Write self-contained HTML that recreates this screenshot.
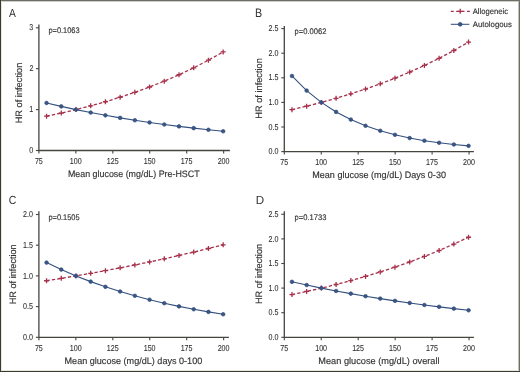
<!DOCTYPE html>
<html><head><meta charset="utf-8"><style>
html,body{margin:0;padding:0;background:#fff;}
body{width:520px;height:372px;overflow:hidden;position:relative;}
svg{position:absolute;left:0;top:0;will-change:transform;text-rendering:geometricPrecision;font-family:"Liberation Sans", sans-serif;}
circle{fill:#3b5787;stroke:#2c4776;stroke-width:0.7px;}
text{stroke:#333;stroke-width:0.16px;}
.tk{stroke-width:0.1px;}
.b{position:absolute;}
</style></head><body>
<svg width="520" height="372" viewBox="0 0 520 372">
<g><text x="9.08" y="17" font-size="11.8" fill="#333" textLength="6.85" lengthAdjust="spacingAndGlyphs" style="stroke-width:0">A</text>
<path d="M38.9 24.6V150.5H229.9" fill="none" stroke="#45453f" stroke-width="1.3"/>
<path d="M35.9 150.5H38.9" stroke="#45453f" stroke-width="1.1"/>
<text class="tk" x="29.3" y="153.1" font-size="8.6" fill="#333" textLength="3.97" lengthAdjust="spacingAndGlyphs">0</text>
<path d="M35.9 109.6H38.9" stroke="#45453f" stroke-width="1.1"/>
<text class="tk" x="29.37" y="112.2" font-size="8.6" fill="#333" textLength="3.97" lengthAdjust="spacingAndGlyphs">1</text>
<path d="M35.9 68.7H38.9" stroke="#45453f" stroke-width="1.1"/>
<text class="tk" x="29.39" y="71.3" font-size="8.6" fill="#333" textLength="3.97" lengthAdjust="spacingAndGlyphs">2</text>
<path d="M35.9 27.8H38.9" stroke="#45453f" stroke-width="1.1"/>
<text class="tk" x="29.35" y="30.4" font-size="8.6" fill="#333" textLength="3.97" lengthAdjust="spacingAndGlyphs">3</text>
<path d="M38.9 150.5V153.5" stroke="#45453f" stroke-width="1.1"/>
<text class="tk" x="34.9" y="163.9" font-size="8.6" fill="#333" textLength="7.94" lengthAdjust="spacingAndGlyphs">75</text>
<path d="M75.85 150.5V153.5" stroke="#45453f" stroke-width="1.1"/>
<text class="tk" x="69.76" y="163.9" font-size="8.6" fill="#333" textLength="11.91" lengthAdjust="spacingAndGlyphs">100</text>
<path d="M112.8 150.5V153.5" stroke="#45453f" stroke-width="1.1"/>
<text class="tk" x="106.73" y="163.9" font-size="8.6" fill="#333" textLength="11.91" lengthAdjust="spacingAndGlyphs">125</text>
<path d="M149.75 150.5V153.5" stroke="#45453f" stroke-width="1.1"/>
<text class="tk" x="143.66" y="163.9" font-size="8.6" fill="#333" textLength="11.91" lengthAdjust="spacingAndGlyphs">150</text>
<path d="M186.7 150.5V153.5" stroke="#45453f" stroke-width="1.1"/>
<text class="tk" x="180.63" y="163.9" font-size="8.6" fill="#333" textLength="11.91" lengthAdjust="spacingAndGlyphs">175</text>
<path d="M223.65 150.5V153.5" stroke="#45453f" stroke-width="1.1"/>
<text class="tk" x="217.65" y="163.9" font-size="8.6" fill="#333" textLength="11.91" lengthAdjust="spacingAndGlyphs">200</text>
<text x="67.97" y="176.7" font-size="9.3" fill="#333" textLength="131.63" lengthAdjust="spacingAndGlyphs">Mean glucose (mg/dL) Pre-HSCT</text>
<text transform="translate(22.3 123.36) rotate(-90)" font-size="9.3" fill="#333" textLength="60.66" lengthAdjust="spacingAndGlyphs">HR of infection</text>
<text x="48.42" y="32.5" font-size="8.1" fill="#333" textLength="31.21" lengthAdjust="spacingAndGlyphs">p=0.1063</text>
<path d="M46.54 116.2 L61.26 113.05 L75.98 109.6 L90.69 105.84 L105.41 101.73 L120.13 97.24 L134.85 92.34 L149.57 86.99 L164.28 81.15 L179 74.77 L193.72 67.81 L208.44 60.2 L223.16 51.89" fill="none" stroke="#a6304a" stroke-width="1.3" stroke-dasharray="3.3 2.1"/>
<path d="M44.04 116.2H49.04M46.54 113.7V118.7" stroke="#a6304a" stroke-width="1.3"/>
<path d="M58.76 113.05H63.76M61.26 110.55V115.55" stroke="#a6304a" stroke-width="1.3"/>
<path d="M73.48 109.6H78.48M75.98 107.1V112.1" stroke="#a6304a" stroke-width="1.3"/>
<path d="M88.19 105.84H93.19M90.69 103.34V108.34" stroke="#a6304a" stroke-width="1.3"/>
<path d="M102.91 101.73H107.91M105.41 99.23V104.23" stroke="#a6304a" stroke-width="1.3"/>
<path d="M117.63 97.24H122.63M120.13 94.74V99.74" stroke="#a6304a" stroke-width="1.3"/>
<path d="M132.35 92.34H137.35M134.85 89.84V94.84" stroke="#a6304a" stroke-width="1.3"/>
<path d="M147.07 86.99H152.07M149.57 84.49V89.49" stroke="#a6304a" stroke-width="1.3"/>
<path d="M161.78 81.15H166.78M164.28 78.65V83.65" stroke="#a6304a" stroke-width="1.3"/>
<path d="M176.5 74.77H181.5M179 72.27V77.27" stroke="#a6304a" stroke-width="1.3"/>
<path d="M191.22 67.81H196.22M193.72 65.31V70.31" stroke="#a6304a" stroke-width="1.3"/>
<path d="M205.94 60.2H210.94M208.44 57.7V62.7" stroke="#a6304a" stroke-width="1.3"/>
<path d="M220.66 51.89H225.66M223.16 49.39V54.39" stroke="#a6304a" stroke-width="1.3"/>
<path d="M46.54 102.93 L61.26 106.39 L75.98 109.6 L90.69 112.57 L105.41 115.33 L120.13 117.89 L134.85 120.26 L149.57 122.46 L164.28 124.5 L179 126.39 L193.72 128.14 L208.44 129.77 L223.16 131.28" fill="none" stroke="#33507f" stroke-width="1.1"/>
<circle cx="46.54" cy="102.93" r="1.8"/>
<circle cx="61.26" cy="106.39" r="1.8"/>
<circle cx="75.98" cy="109.6" r="1.8"/>
<circle cx="90.69" cy="112.57" r="1.8"/>
<circle cx="105.41" cy="115.33" r="1.8"/>
<circle cx="120.13" cy="117.89" r="1.8"/>
<circle cx="134.85" cy="120.26" r="1.8"/>
<circle cx="149.57" cy="122.46" r="1.8"/>
<circle cx="164.28" cy="124.5" r="1.8"/>
<circle cx="179" cy="126.39" r="1.8"/>
<circle cx="193.72" cy="128.14" r="1.8"/>
<circle cx="208.44" cy="129.77" r="1.8"/>
<circle cx="223.16" cy="131.28" r="1.8"/></g>
<g><text x="255.02" y="17.4" font-size="12.3" fill="#333" textLength="7.15" lengthAdjust="spacingAndGlyphs" style="stroke-width:0">B</text>
<path d="M284.3 26V151.6H473.9" fill="none" stroke="#45453f" stroke-width="1.3"/>
<path d="M281.3 151.6H284.3" stroke="#45453f" stroke-width="1.1"/>
<text class="tk" x="268.55" y="154.2" font-size="8.6" fill="#333" textLength="9.92" lengthAdjust="spacingAndGlyphs">0.0</text>
<path d="M281.3 127H284.3" stroke="#45453f" stroke-width="1.1"/>
<text class="tk" x="268.58" y="129.6" font-size="8.6" fill="#333" textLength="9.92" lengthAdjust="spacingAndGlyphs">0.5</text>
<path d="M281.3 102.4H284.3" stroke="#45453f" stroke-width="1.1"/>
<text class="tk" x="268.55" y="105" font-size="8.6" fill="#333" textLength="9.92" lengthAdjust="spacingAndGlyphs">1.0</text>
<path d="M281.3 77.8H284.3" stroke="#45453f" stroke-width="1.1"/>
<text class="tk" x="268.58" y="80.4" font-size="8.6" fill="#333" textLength="9.92" lengthAdjust="spacingAndGlyphs">1.5</text>
<path d="M281.3 53.2H284.3" stroke="#45453f" stroke-width="1.1"/>
<text class="tk" x="268.55" y="55.8" font-size="8.6" fill="#333" textLength="9.92" lengthAdjust="spacingAndGlyphs">2.0</text>
<path d="M281.3 28.6H284.3" stroke="#45453f" stroke-width="1.1"/>
<text class="tk" x="268.58" y="31.2" font-size="8.6" fill="#333" textLength="9.92" lengthAdjust="spacingAndGlyphs">2.5</text>
<path d="M284.3 151.6V154.6" stroke="#45453f" stroke-width="1.1"/>
<text class="tk" x="280.3" y="165" font-size="8.6" fill="#333" textLength="7.94" lengthAdjust="spacingAndGlyphs">75</text>
<path d="M321.25 151.6V154.6" stroke="#45453f" stroke-width="1.1"/>
<text class="tk" x="315.16" y="165" font-size="8.6" fill="#333" textLength="11.91" lengthAdjust="spacingAndGlyphs">100</text>
<path d="M358.2 151.6V154.6" stroke="#45453f" stroke-width="1.1"/>
<text class="tk" x="352.13" y="165" font-size="8.6" fill="#333" textLength="11.91" lengthAdjust="spacingAndGlyphs">125</text>
<path d="M395.15 151.6V154.6" stroke="#45453f" stroke-width="1.1"/>
<text class="tk" x="389.06" y="165" font-size="8.6" fill="#333" textLength="11.91" lengthAdjust="spacingAndGlyphs">150</text>
<path d="M432.1 151.6V154.6" stroke="#45453f" stroke-width="1.1"/>
<text class="tk" x="426.03" y="165" font-size="8.6" fill="#333" textLength="11.91" lengthAdjust="spacingAndGlyphs">175</text>
<path d="M469.05 151.6V154.6" stroke="#45453f" stroke-width="1.1"/>
<text class="tk" x="463.05" y="165" font-size="8.6" fill="#333" textLength="11.91" lengthAdjust="spacingAndGlyphs">200</text>
<text x="312.26" y="178.2" font-size="9.3" fill="#333" textLength="133.69" lengthAdjust="spacingAndGlyphs">Mean glucose (mg/dL) Days 0-30</text>
<text transform="translate(261.5 118.66) rotate(-90)" font-size="9.3" fill="#333" textLength="60.45" lengthAdjust="spacingAndGlyphs">HR of infection</text>
<text x="294.62" y="34.2" font-size="8.1" fill="#333" textLength="31.77" lengthAdjust="spacingAndGlyphs">p=0.0062</text>
<path d="M291.94 109.67 L306.66 106.18 L321.38 102.4 L336.09 98.3 L350.81 93.86 L365.53 89.05 L380.25 83.85 L394.97 78.2 L409.68 72.09 L424.4 65.47 L439.12 58.29 L453.84 50.52 L468.56 42.1" fill="none" stroke="#a6304a" stroke-width="1.3" stroke-dasharray="3.3 2.1"/>
<path d="M289.44 109.67H294.44M291.94 107.17V112.17" stroke="#a6304a" stroke-width="1.3"/>
<path d="M304.16 106.18H309.16M306.66 103.68V108.68" stroke="#a6304a" stroke-width="1.3"/>
<path d="M318.88 102.4H323.88M321.38 99.9V104.9" stroke="#a6304a" stroke-width="1.3"/>
<path d="M333.59 98.3H338.59M336.09 95.8V100.8" stroke="#a6304a" stroke-width="1.3"/>
<path d="M348.31 93.86H353.31M350.81 91.36V96.36" stroke="#a6304a" stroke-width="1.3"/>
<path d="M363.03 89.05H368.03M365.53 86.55V91.55" stroke="#a6304a" stroke-width="1.3"/>
<path d="M377.75 83.85H382.75M380.25 81.35V86.35" stroke="#a6304a" stroke-width="1.3"/>
<path d="M392.47 78.2H397.47M394.97 75.7V80.7" stroke="#a6304a" stroke-width="1.3"/>
<path d="M407.18 72.09H412.18M409.68 69.59V74.59" stroke="#a6304a" stroke-width="1.3"/>
<path d="M421.9 65.47H426.9M424.4 62.97V67.97" stroke="#a6304a" stroke-width="1.3"/>
<path d="M436.62 58.29H441.62M439.12 55.79V60.79" stroke="#a6304a" stroke-width="1.3"/>
<path d="M451.34 50.52H456.34M453.84 48.02V53.02" stroke="#a6304a" stroke-width="1.3"/>
<path d="M466.06 42.1H471.06M468.56 39.6V44.6" stroke="#a6304a" stroke-width="1.3"/>
<path d="M291.94 75.97 L306.66 90.6 L321.38 102.4 L336.09 111.92 L350.81 119.59 L365.53 125.79 L380.25 130.78 L394.97 134.81 L409.68 138.06 L424.4 140.68 L439.12 142.79 L453.84 144.49 L468.56 145.87" fill="none" stroke="#33507f" stroke-width="1.1"/>
<circle cx="291.94" cy="75.97" r="1.8"/>
<circle cx="306.66" cy="90.6" r="1.8"/>
<circle cx="321.38" cy="102.4" r="1.8"/>
<circle cx="336.09" cy="111.92" r="1.8"/>
<circle cx="350.81" cy="119.59" r="1.8"/>
<circle cx="365.53" cy="125.79" r="1.8"/>
<circle cx="380.25" cy="130.78" r="1.8"/>
<circle cx="394.97" cy="134.81" r="1.8"/>
<circle cx="409.68" cy="138.06" r="1.8"/>
<circle cx="424.4" cy="140.68" r="1.8"/>
<circle cx="439.12" cy="142.79" r="1.8"/>
<circle cx="453.84" cy="144.49" r="1.8"/>
<circle cx="468.56" cy="145.87" r="1.8"/></g>
<g><text x="8.78" y="204" font-size="11.8" fill="#333" textLength="7.52" lengthAdjust="spacingAndGlyphs" style="stroke-width:0">C</text>
<path d="M38.9 211.3V337.3H228.9" fill="none" stroke="#45453f" stroke-width="1.3"/>
<path d="M35.9 337.3H38.9" stroke="#45453f" stroke-width="1.1"/>
<text class="tk" x="22.95" y="339.9" font-size="8.6" fill="#333" textLength="9.92" lengthAdjust="spacingAndGlyphs">0.0</text>
<path d="M35.9 306.6H38.9" stroke="#45453f" stroke-width="1.1"/>
<text class="tk" x="22.98" y="309.2" font-size="8.6" fill="#333" textLength="9.92" lengthAdjust="spacingAndGlyphs">0.5</text>
<path d="M35.9 275.9H38.9" stroke="#45453f" stroke-width="1.1"/>
<text class="tk" x="22.95" y="278.5" font-size="8.6" fill="#333" textLength="9.92" lengthAdjust="spacingAndGlyphs">1.0</text>
<path d="M35.9 245.2H38.9" stroke="#45453f" stroke-width="1.1"/>
<text class="tk" x="22.98" y="247.8" font-size="8.6" fill="#333" textLength="9.92" lengthAdjust="spacingAndGlyphs">1.5</text>
<path d="M35.9 214.5H38.9" stroke="#45453f" stroke-width="1.1"/>
<text class="tk" x="22.95" y="217.1" font-size="8.6" fill="#333" textLength="9.92" lengthAdjust="spacingAndGlyphs">2.0</text>
<path d="M38.9 337.3V340.3" stroke="#45453f" stroke-width="1.1"/>
<text class="tk" x="34.9" y="350.7" font-size="8.6" fill="#333" textLength="7.94" lengthAdjust="spacingAndGlyphs">75</text>
<path d="M75.85 337.3V340.3" stroke="#45453f" stroke-width="1.1"/>
<text class="tk" x="69.76" y="350.7" font-size="8.6" fill="#333" textLength="11.91" lengthAdjust="spacingAndGlyphs">100</text>
<path d="M112.8 337.3V340.3" stroke="#45453f" stroke-width="1.1"/>
<text class="tk" x="106.73" y="350.7" font-size="8.6" fill="#333" textLength="11.91" lengthAdjust="spacingAndGlyphs">125</text>
<path d="M149.75 337.3V340.3" stroke="#45453f" stroke-width="1.1"/>
<text class="tk" x="143.66" y="350.7" font-size="8.6" fill="#333" textLength="11.91" lengthAdjust="spacingAndGlyphs">150</text>
<path d="M186.7 337.3V340.3" stroke="#45453f" stroke-width="1.1"/>
<text class="tk" x="180.63" y="350.7" font-size="8.6" fill="#333" textLength="11.91" lengthAdjust="spacingAndGlyphs">175</text>
<path d="M223.65 337.3V340.3" stroke="#45453f" stroke-width="1.1"/>
<text class="tk" x="217.65" y="350.7" font-size="8.6" fill="#333" textLength="11.91" lengthAdjust="spacingAndGlyphs">200</text>
<text x="64.56" y="363.5" font-size="9.3" fill="#333" textLength="137.7" lengthAdjust="spacingAndGlyphs">Mean glucose (mg/dL) days 0-100</text>
<text transform="translate(16.2 304.25) rotate(-90)" font-size="9.3" fill="#333" textLength="59.94" lengthAdjust="spacingAndGlyphs">HR of infection</text>
<text x="48.42" y="220" font-size="8.1" fill="#333" textLength="31.19" lengthAdjust="spacingAndGlyphs">p=0.1505</text>
<path d="M46.54 280.73 L61.26 278.37 L75.98 275.9 L90.69 273.33 L105.41 270.65 L120.13 267.86 L134.85 264.96 L149.57 261.93 L164.28 258.78 L179 255.49 L193.72 252.07 L208.44 248.5 L223.16 244.78" fill="none" stroke="#a6304a" stroke-width="1.3" stroke-dasharray="3.3 2.1"/>
<path d="M44.04 280.73H49.04M46.54 278.23V283.23" stroke="#a6304a" stroke-width="1.3"/>
<path d="M58.76 278.37H63.76M61.26 275.87V280.87" stroke="#a6304a" stroke-width="1.3"/>
<path d="M73.48 275.9H78.48M75.98 273.4V278.4" stroke="#a6304a" stroke-width="1.3"/>
<path d="M88.19 273.33H93.19M90.69 270.83V275.83" stroke="#a6304a" stroke-width="1.3"/>
<path d="M102.91 270.65H107.91M105.41 268.15V273.15" stroke="#a6304a" stroke-width="1.3"/>
<path d="M117.63 267.86H122.63M120.13 265.36V270.36" stroke="#a6304a" stroke-width="1.3"/>
<path d="M132.35 264.96H137.35M134.85 262.46V267.46" stroke="#a6304a" stroke-width="1.3"/>
<path d="M147.07 261.93H152.07M149.57 259.43V264.43" stroke="#a6304a" stroke-width="1.3"/>
<path d="M161.78 258.78H166.78M164.28 256.28V261.28" stroke="#a6304a" stroke-width="1.3"/>
<path d="M176.5 255.49H181.5M179 252.99V257.99" stroke="#a6304a" stroke-width="1.3"/>
<path d="M191.22 252.07H196.22M193.72 249.57V254.57" stroke="#a6304a" stroke-width="1.3"/>
<path d="M205.94 248.5H210.94M208.44 246V251" stroke="#a6304a" stroke-width="1.3"/>
<path d="M220.66 244.78H225.66M223.16 242.28V247.28" stroke="#a6304a" stroke-width="1.3"/>
<path d="M46.54 262.61 L61.26 269.58 L75.98 275.9 L90.69 281.63 L105.41 286.83 L120.13 291.54 L134.85 295.81 L149.57 299.68 L164.28 303.2 L179 306.38 L193.72 309.27 L208.44 311.88 L223.16 314.26" fill="none" stroke="#33507f" stroke-width="1.1"/>
<circle cx="46.54" cy="262.61" r="1.8"/>
<circle cx="61.26" cy="269.58" r="1.8"/>
<circle cx="75.98" cy="275.9" r="1.8"/>
<circle cx="90.69" cy="281.63" r="1.8"/>
<circle cx="105.41" cy="286.83" r="1.8"/>
<circle cx="120.13" cy="291.54" r="1.8"/>
<circle cx="134.85" cy="295.81" r="1.8"/>
<circle cx="149.57" cy="299.68" r="1.8"/>
<circle cx="164.28" cy="303.2" r="1.8"/>
<circle cx="179" cy="306.38" r="1.8"/>
<circle cx="193.72" cy="309.27" r="1.8"/>
<circle cx="208.44" cy="311.88" r="1.8"/>
<circle cx="223.16" cy="314.26" r="1.8"/></g>
<g><text x="255.74" y="203.9" font-size="11.8" fill="#333" textLength="8.42" lengthAdjust="spacingAndGlyphs" style="stroke-width:0">D</text>
<path d="M284.3 211.3V337.3H473.9" fill="none" stroke="#45453f" stroke-width="1.3"/>
<path d="M281.3 337.3H284.3" stroke="#45453f" stroke-width="1.1"/>
<text class="tk" x="268.55" y="339.9" font-size="8.6" fill="#333" textLength="9.92" lengthAdjust="spacingAndGlyphs">0.0</text>
<path d="M281.3 312.7H284.3" stroke="#45453f" stroke-width="1.1"/>
<text class="tk" x="268.58" y="315.3" font-size="8.6" fill="#333" textLength="9.92" lengthAdjust="spacingAndGlyphs">0.5</text>
<path d="M281.3 288.1H284.3" stroke="#45453f" stroke-width="1.1"/>
<text class="tk" x="268.55" y="290.7" font-size="8.6" fill="#333" textLength="9.92" lengthAdjust="spacingAndGlyphs">1.0</text>
<path d="M281.3 263.5H284.3" stroke="#45453f" stroke-width="1.1"/>
<text class="tk" x="268.58" y="266.1" font-size="8.6" fill="#333" textLength="9.92" lengthAdjust="spacingAndGlyphs">1.5</text>
<path d="M281.3 238.9H284.3" stroke="#45453f" stroke-width="1.1"/>
<text class="tk" x="268.55" y="241.5" font-size="8.6" fill="#333" textLength="9.92" lengthAdjust="spacingAndGlyphs">2.0</text>
<path d="M281.3 214.3H284.3" stroke="#45453f" stroke-width="1.1"/>
<text class="tk" x="268.58" y="216.9" font-size="8.6" fill="#333" textLength="9.92" lengthAdjust="spacingAndGlyphs">2.5</text>
<path d="M284.3 337.3V340.3" stroke="#45453f" stroke-width="1.1"/>
<text class="tk" x="280.3" y="350.7" font-size="8.6" fill="#333" textLength="7.94" lengthAdjust="spacingAndGlyphs">75</text>
<path d="M321.25 337.3V340.3" stroke="#45453f" stroke-width="1.1"/>
<text class="tk" x="315.16" y="350.7" font-size="8.6" fill="#333" textLength="11.91" lengthAdjust="spacingAndGlyphs">100</text>
<path d="M358.2 337.3V340.3" stroke="#45453f" stroke-width="1.1"/>
<text class="tk" x="352.13" y="350.7" font-size="8.6" fill="#333" textLength="11.91" lengthAdjust="spacingAndGlyphs">125</text>
<path d="M395.15 337.3V340.3" stroke="#45453f" stroke-width="1.1"/>
<text class="tk" x="389.06" y="350.7" font-size="8.6" fill="#333" textLength="11.91" lengthAdjust="spacingAndGlyphs">150</text>
<path d="M432.1 337.3V340.3" stroke="#45453f" stroke-width="1.1"/>
<text class="tk" x="426.03" y="350.7" font-size="8.6" fill="#333" textLength="11.91" lengthAdjust="spacingAndGlyphs">175</text>
<path d="M469.05 337.3V340.3" stroke="#45453f" stroke-width="1.1"/>
<text class="tk" x="463.05" y="350.7" font-size="8.6" fill="#333" textLength="11.91" lengthAdjust="spacingAndGlyphs">200</text>
<text x="318.35" y="363.75" font-size="9.3" fill="#333" textLength="121.17" lengthAdjust="spacingAndGlyphs">Mean glucose (mg/dL) overall</text>
<text transform="translate(261.7 304.05) rotate(-90)" font-size="9.3" fill="#333" textLength="60.14" lengthAdjust="spacingAndGlyphs">HR of infection</text>
<text x="294.62" y="220" font-size="8.1" fill="#333" textLength="31.72" lengthAdjust="spacingAndGlyphs">p=0.1733</text>
<path d="M291.94 294.61 L306.66 291.47 L321.38 288.1 L336.09 284.48 L350.81 280.59 L365.53 276.42 L380.25 271.94 L394.97 267.13 L409.68 261.97 L424.4 256.43 L439.12 250.48 L453.84 244.09 L468.56 237.23" fill="none" stroke="#a6304a" stroke-width="1.3" stroke-dasharray="3.3 2.1"/>
<path d="M289.44 294.61H294.44M291.94 292.11V297.11" stroke="#a6304a" stroke-width="1.3"/>
<path d="M304.16 291.47H309.16M306.66 288.97V293.97" stroke="#a6304a" stroke-width="1.3"/>
<path d="M318.88 288.1H323.88M321.38 285.6V290.6" stroke="#a6304a" stroke-width="1.3"/>
<path d="M333.59 284.48H338.59M336.09 281.98V286.98" stroke="#a6304a" stroke-width="1.3"/>
<path d="M348.31 280.59H353.31M350.81 278.09V283.09" stroke="#a6304a" stroke-width="1.3"/>
<path d="M363.03 276.42H368.03M365.53 273.92V278.92" stroke="#a6304a" stroke-width="1.3"/>
<path d="M377.75 271.94H382.75M380.25 269.44V274.44" stroke="#a6304a" stroke-width="1.3"/>
<path d="M392.47 267.13H397.47M394.97 264.63V269.63" stroke="#a6304a" stroke-width="1.3"/>
<path d="M407.18 261.97H412.18M409.68 259.47V264.47" stroke="#a6304a" stroke-width="1.3"/>
<path d="M421.9 256.43H426.9M424.4 253.93V258.93" stroke="#a6304a" stroke-width="1.3"/>
<path d="M436.62 250.48H441.62M439.12 247.98V252.98" stroke="#a6304a" stroke-width="1.3"/>
<path d="M451.34 244.09H456.34M453.84 241.59V246.59" stroke="#a6304a" stroke-width="1.3"/>
<path d="M466.06 237.23H471.06M468.56 234.73V239.73" stroke="#a6304a" stroke-width="1.3"/>
<path d="M291.94 281.83 L306.66 285.06 L321.38 288.1 L336.09 290.97 L350.81 293.66 L365.53 296.2 L380.25 298.6 L394.97 300.85 L409.68 302.97 L424.4 304.97 L439.12 306.86 L453.84 308.63 L468.56 310.3" fill="none" stroke="#33507f" stroke-width="1.1"/>
<circle cx="291.94" cy="281.83" r="1.8"/>
<circle cx="306.66" cy="285.06" r="1.8"/>
<circle cx="321.38" cy="288.1" r="1.8"/>
<circle cx="336.09" cy="290.97" r="1.8"/>
<circle cx="350.81" cy="293.66" r="1.8"/>
<circle cx="365.53" cy="296.2" r="1.8"/>
<circle cx="380.25" cy="298.6" r="1.8"/>
<circle cx="394.97" cy="300.85" r="1.8"/>
<circle cx="409.68" cy="302.97" r="1.8"/>
<circle cx="424.4" cy="304.97" r="1.8"/>
<circle cx="439.12" cy="306.86" r="1.8"/>
<circle cx="453.84" cy="308.63" r="1.8"/>
<circle cx="468.56" cy="310.3" r="1.8"/></g>
<path d="M450.8 11.3H470" stroke="#a6304a" stroke-width="1.3" stroke-dasharray="2.9 2.5"/>
<path d="M457.7 11.3H462.7M460.2 8.8V13.8" stroke="#a6304a" stroke-width="1.3"/>
<text x="472.78" y="13.8" font-size="8.0" fill="#333" textLength="35.22" lengthAdjust="spacingAndGlyphs">Allogeneic</text>
<path d="M450.8 24.3H469.3" stroke="#33507f" stroke-width="1.05"/>
<circle cx="460.2" cy="24.3" r="1.9"/>
<text x="472.78" y="26.7" font-size="8.0" fill="#333" textLength="39.1" lengthAdjust="spacingAndGlyphs">Autologous</text>
</svg>
<div class="b" style="left:0;top:1px;width:520px;height:1px;background:#cecec6"></div>
<div class="b" style="left:1px;top:0;width:1px;height:372px;background:#e8e8e0"></div>
<div class="b" style="left:518px;top:0;width:1px;height:372px;background:#c0c0b8"></div>
<div class="b" style="left:0;top:370px;width:520px;height:1px;background:#e8e8e0"></div>
<div class="b" style="left:0;top:0;width:520px;height:1px;background:#6e6e68"></div>
<div class="b" style="left:0;top:0;width:1px;height:372px;background:#3a3a32"></div>
<div class="b" style="left:519px;top:0;width:1px;height:372px;background:#6e6e68"></div>
<div class="b" style="left:0;top:371px;width:520px;height:1px;background:#3a3a32"></div>
</body></html>
